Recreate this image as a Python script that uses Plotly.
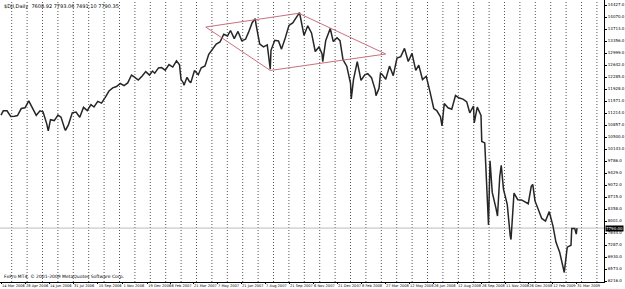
import numpy as np
import plotly.graph_objects as go

# ---------------- data ----------------
DATES = [
 "2006-03-14","2006-03-17","2006-03-24","2006-03-31","2006-04-07","2006-04-13","2006-04-21","2006-04-28",
 "2006-05-05","2006-05-12","2006-05-19","2006-05-26","2006-06-02","2006-06-09","2006-06-13","2006-06-16",
 "2006-06-23","2006-06-30","2006-07-07","2006-07-14","2006-07-17","2006-07-21","2006-07-28","2006-08-04",
 "2006-08-11","2006-08-18","2006-08-25","2006-09-01","2006-09-08","2006-09-15","2006-09-22","2006-09-29",
 "2006-10-06","2006-10-13","2006-10-20","2006-10-27","2006-11-03","2006-11-10","2006-11-17","2006-11-24",
 "2006-12-01","2006-12-08","2006-12-15","2006-12-22","2006-12-29",
 "2007-01-05","2007-01-12","2007-01-19","2007-01-26","2007-02-02","2007-02-09","2007-02-16","2007-02-23",
 "2007-02-27","2007-03-02","2007-03-05","2007-03-09","2007-03-14","2007-03-16","2007-03-23","2007-03-30",
 "2007-04-05","2007-04-13","2007-04-20","2007-04-27","2007-05-04","2007-05-11","2007-05-18","2007-05-25",
 "2007-06-01","2007-06-08","2007-06-15","2007-06-22","2007-06-29","2007-07-06","2007-07-13","2007-07-19",
 "2007-07-20","2007-07-27","2007-08-03","2007-08-10","2007-08-16","2007-08-17","2007-08-24","2007-08-31",
 "2007-09-07","2007-09-14","2007-09-21","2007-09-28","2007-10-05","2007-10-11","2007-10-12","2007-10-19",
 "2007-10-26","2007-11-02","2007-11-09","2007-11-16","2007-11-23","2007-11-26","2007-11-30","2007-12-07",
 "2007-12-10","2007-12-14","2007-12-21","2007-12-28",
 "2008-01-04","2008-01-11","2008-01-18","2008-01-22","2008-01-25","2008-02-01","2008-02-08","2008-02-15",
 "2008-02-22","2008-02-29","2008-03-07","2008-03-10","2008-03-14","2008-03-18","2008-03-20","2008-03-28",
 "2008-04-04","2008-04-11","2008-04-18","2008-04-25","2008-05-02","2008-05-09","2008-05-16","2008-05-23",
 "2008-05-30","2008-06-06","2008-06-13","2008-06-20","2008-06-27","2008-07-03","2008-07-11","2008-07-15",
 "2008-07-18","2008-07-25","2008-08-01","2008-08-08","2008-08-15","2008-08-22","2008-08-29","2008-09-05",
 "2008-09-12","2008-09-15","2008-09-19","2008-09-26","2008-09-29","2008-10-03","2008-10-10","2008-10-14",
 "2008-10-17","2008-10-24","2008-10-28","2008-10-31","2008-11-04","2008-11-07","2008-11-14","2008-11-20",
 "2008-11-21","2008-11-28","2008-12-05","2008-12-12","2008-12-19","2008-12-26",
 "2009-01-02","2009-01-06","2009-01-09","2009-01-16","2009-01-23","2009-01-30","2009-02-06","2009-02-13",
 "2009-02-20","2009-02-27","2009-03-06","2009-03-09","2009-03-13","2009-03-20","2009-03-23","2009-03-27",
 "2009-03-31","2009-04-01",
]
PRICE = [
 11151,11279,11280,11109,11120,11137,11347,11367,
 11577,11380,11144,11278,11247,10891,10683,11014,
 10989,11150,11091,10739,10700,10869,11220,11240,
 11088,11381,11284,11465,11393,11561,11509,11679,
 11867,11961,12002,12091,12031,12109,12343,12281,
 12195,12307,12446,12344,12463,
 12398,12556,12566,12487,12654,12581,12768,12647,
 12216,12115,12040,12277,12160,12111,12481,12354,
 12561,12613,12962,13121,13265,13327,13556,13507,
 13668,13425,13640,13361,13409,13612,13908,14022,
 13851,13266,13182,13240,12518,13079,13379,13358,
 13114,13443,13821,13896,14067,14198,14093,13522,
 13807,13596,13043,13177,12981,12744,13372,13626,
 13728,13339,13451,13366,
 12801,12606,12100,11634,12207,12743,12183,12348,
 12382,12266,11894,11731,11951,12393,12362,12216,
 12610,12326,12850,12892,13137,12746,12986,12480,
 12638,12210,12307,11843,11347,11288,11100,10828,
 11496,11370,11327,11734,11660,11628,11544,11220,
 11422,10918,11389,11143,10365,10325,7882,9794,
 8852,8379,8150,9325,9654,8943,8497,7552,
 7449,8829,8636,8629,8579,8515,
 9034,9088,8599,8281,8077,8001,8280,7850,
 7366,7063,6627,6470,7224,7279,7776,7776,
 7609,7790,
]

# NYSE holidays (used for trading-bar positions on the time axis)
HOLIDAYS = [
 "2006-04-14","2006-05-29","2006-07-04","2006-09-04","2006-11-23","2006-12-25",
 "2007-01-01","2007-01-02","2007-01-15","2007-02-19","2007-04-06","2007-05-28","2007-07-04",
 "2007-09-03","2007-11-22","2007-12-25",
 "2008-01-01","2008-01-21","2008-02-18","2008-03-21","2008-05-26","2008-07-04","2008-09-01",
 "2008-11-27","2008-12-25",
 "2009-01-01","2009-01-19","2009-02-16",
]

X_LABEL_DATES = [
 "2006-03-14","2006-04-28","2006-06-14","2006-07-31","2006-09-15","2006-11-01","2006-12-19",
 "2007-02-06","2007-03-21","2007-05-07","2007-06-21","2007-08-07","2007-09-21","2007-11-06",
 "2007-12-21","2008-02-08","2008-03-27","2008-05-12","2008-06-26","2008-08-12","2008-09-26",
 "2008-11-11","2008-12-26","2009-02-12","2009-03-31",
]
X_LABELS = [
 "14 Mar 2006","28 Apr 2006","14 Jun 2006","31 Jul 2006","15 Sep 2006","1 Nov 2006","19 Dec 2006",
 "6 Feb 2007","21 Mar 2007","7 May 2007","21 Jun 2007","7 Aug 2007","21 Sep 2007","6 Nov 2007",
 "21 Dec 2007","8 Feb 2008","27 Mar 2008","12 May 2008","26 Jun 2008","12 Aug 2008","26 Sep 2008",
 "11 Nov 2008","26 Dec 2008","12 Feb 2009","31 Mar 2009",
]

Y_TICKS = [14427.0,14070.0,13713.0,13356.0,12999.0,12642.0,12285.0,11928.0,11571.0,11214.0,
           10857.0,10500.0,10143.0,9786.0,9429.0,9072.0,8715.0,8358.0,8001.0,7644.0,
           7287.0,6930.0,6573.0,6216.0]

# Diamond drawn on the chart (dates, prices)
DIAMOND_DATES = ["2007-04-16","2007-10-10","2008-03-28","2007-08-16","2007-04-16"]
DIAMOND_PRICES = [13772,14180,12969,12480,13772]

BID = 7790.0
TITLE = "$DJI,Daily  7608.92 7793.06 7491.10 7790.35"
COPYRIGHT = "FxPro MT4, \u00a9 2001-2009 MetaQuotes Software Corp."

# ---------------- helpers ----------------
START = "2006-03-14"
def bar(d):
    return int(np.busday_count(START, d, holidays=HOLIDAYS))

xs = [bar(d) for d in DATES]
tick_x = [bar(d) for d in X_LABEL_DATES]
dia_x = [bar(d) for d in DIAMOND_DATES]

W, H = 625, 289
PLOT_R = 604          # right edge of plotting area in px
PLOT_B = 282          # bottom edge in px
PX_PER_BAR = 0.75
X0 = 1.0              # px of bar 0
x_lo = (0 - X0) / PX_PER_BAR
x_hi = (PLOT_R - X0) / PX_PER_BAR
UNITS_PER_PX = 29.75
y_top = 14427.0 + 5 * UNITS_PER_PX
y_bot = 14427.0 - (PLOT_B - 5) * UNITS_PER_PX

FONT = "DejaVu Sans"

fig = go.Figure()

# vertical dotted grid
for k in range(40):
    px = 11.7 + 15.4 * k
    if px > PLOT_R - 2:
        break
    fig.add_shape(type="line", xref="paper", yref="paper",
                  x0=px / W, x1=px / W, y0=(H - PLOT_B) / H, y1=1,
                  line=dict(color="#555555", width=1, dash="1px,2px"), layer="below")

# bid line
fig.add_shape(type="line", xref="paper", yref="y", x0=0, x1=PLOT_R / W, y0=BID, y1=BID,
              line=dict(color="#bdbdbd", width=1), layer="below")

fig.add_trace(go.Scatter(x=xs, y=PRICE, mode="lines",
                         line=dict(color="#262626", width=1.5), hoverinfo="skip"))
fig.add_trace(go.Scatter(x=dia_x, y=DIAMOND_PRICES, mode="lines",
                         line=dict(color="#c8707e", width=1), hoverinfo="skip"))

fig.update_layout(
    width=W, height=H, margin=dict(l=0, r=0, t=0, b=0, autoexpand=False),
    paper_bgcolor="white", plot_bgcolor="white", showlegend=False,
    font=dict(family=FONT, size=5, color="#000000"),
    xaxis=dict(domain=[0, PLOT_R / W], range=[x_lo, x_hi], showgrid=False, zeroline=False,
               tickvals=tick_x, ticktext=X_LABELS, ticks="outside", ticklen=1, tickcolor="#000",
               tickangle=0, automargin=False,
               ticklabelposition="outside right", tickfont=dict(size=3.6, family=FONT),
               showline=True, linecolor="#000", linewidth=1),
    yaxis=dict(domain=[(H - PLOT_B) / H, 1], range=[y_bot, y_top], side="right", showgrid=False,
               zeroline=False, tickvals=Y_TICKS, ticktext=[f"{v:.1f}" for v in Y_TICKS],
               automargin=False,
               ticks="outside", ticklen=2, tickcolor="#000", tickfont=dict(size=4, family=FONT),
               showline=True, linecolor="#000", linewidth=1),
)

fig.add_annotation(xref="paper", yref="paper", x=2 / W, y=1 - 1 / H, xanchor="left", yanchor="top",
                   text=TITLE, showarrow=False, font=dict(size=5, family=FONT))
fig.add_annotation(xref="paper", yref="paper", x=2 / W, y=(H - PLOT_B + 1) / H, xanchor="left",
                   yanchor="bottom", text=COPYRIGHT, showarrow=False, font=dict(size=4.5, family=FONT))
fig.add_annotation(xref="paper", yref="y", x=(PLOT_R + 1) / W, y=BID, xanchor="left", yanchor="middle",
                   text=f"{BID:.2f}", showarrow=False, bgcolor="#000", font=dict(size=4, color="#fff", family=FONT),
                   borderpad=0)

fig.write_html("out.html")
